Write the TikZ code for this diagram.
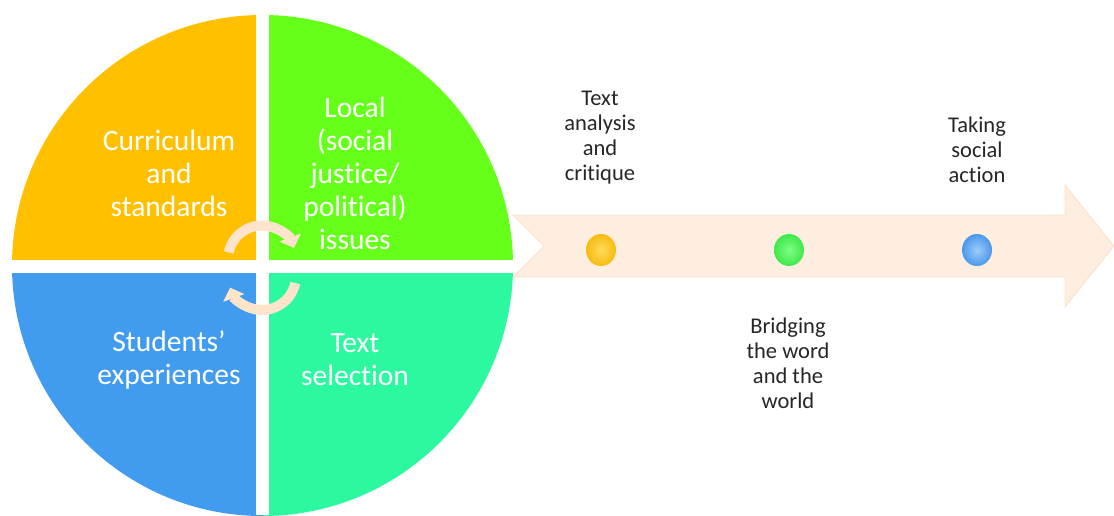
\documentclass[tikz,border=0pt]{standalone}
\usepackage{fontspec}
\setmainfont{Carlito}[RawFeature=-liga]
\usetikzlibrary{arrows.meta,shapes.geometric}
\definecolor{qorange}{HTML}{FFC000}
\definecolor{qlime}{HTML}{66FF1A}
\definecolor{qblue}{HTML}{419CF0}
\definecolor{qteal}{HTML}{2CF99F}
\definecolor{peach}{HTML}{FDEEDF}
\definecolor{peachedge}{HTML}{FBE2CA}
\definecolor{cyc}{HTML}{FDE4CA}
\definecolor{txt}{HTML}{262626}
\definecolor{dyel}{HTML}{F7BC10}
\definecolor{dyelin}{HTML}{FFDA5C}
\definecolor{dgrn}{HTML}{3FE84A}
\definecolor{dgrnin}{HTML}{7DFF85}
\definecolor{dblu}{HTML}{4C98EC}
\definecolor{dbluin}{HTML}{9CCBFA}
\begin{document}
\begin{tikzpicture}[x=1pt,y=-1pt,
  quadtext/.style={text=white,font=\fontsize{29.5}{33}\selectfont,align=center,inner sep=0pt},
  steptext/.style={text=txt,font=\fontsize{22.5}{25}\selectfont,align=center,inner sep=0pt},
  cyclearrow/.style={draw=cyc,line width=10pt,-{Triangle[width=22pt,length=11pt]}},
  dotnode/.style={ellipse,minimum width=30pt,minimum height=32pt,inner sep=0pt,shade},
]
\useasboundingbox (0,0) rectangle (1114,515);
% timeline arrow
\fill[peach,draw=peachedge,line width=0.8pt]
  (513,215) -- (1065,215) -- (1065,185) -- (1114,246) -- (1065,307)
  -- (1065,277) -- (513,277) -- (544,246) -- cycle;
% circle quadrants
\begin{scope}
  \clip (262.5,265.5) circle (250.5);
  \fill[qorange] (0,0) rectangle (262.5,266.5);
  \fill[qlime] (262.5,0) rectangle (530,266.5);
  \fill[qblue] (0,266.5) rectangle (262.5,530);
  \fill[qteal] (262.5,266.5) rectangle (530,530);
\end{scope}
\fill[white] (255.8,0) rectangle (269,515);
\fill[white] (0,260) rectangle (516,273);
% cycle arrows
\coordinate (c1) at (262,259.5);
\coordinate (c2) at (262,276);
\draw[cyclearrow] (c1) ++(192:34) arc[start angle=192,end angle=340,radius=34];
\draw[cyclearrow] (c2) ++(12:34) arc[start angle=12,end angle=160,radius=34];
% quadrant texts
\node[quadtext] (curr) at (169,173) {Curriculum\\and\\standards};
\node[quadtext] (local) at (355,173) {Local\\(social\\justice/\\political)\\issues};
\node[quadtext] (stud) at (169,360) {Students’\\experiences};
\node[quadtext] (tsel) at (355,360) {Text\\selection};
% dots
\node[dotnode,inner color=dyelin,outer color=dyel] (d1) at (601,250) {};
\node[dotnode,inner color=dgrnin,outer color=dgrn] (d2) at (789,250) {};
\node[dotnode,inner color=dbluin,outer color=dblu] (d3) at (977,250) {};
% step texts
\node[steptext] (s1) at (600,138) {Text\\analysis\\and\\critique};
\node[steptext] (s3) at (977,150) {Taking\\social\\action};
\node[steptext] (s2) at (788,363) {Bridging\\the word\\and the\\world};
\end{tikzpicture}
\end{document}
